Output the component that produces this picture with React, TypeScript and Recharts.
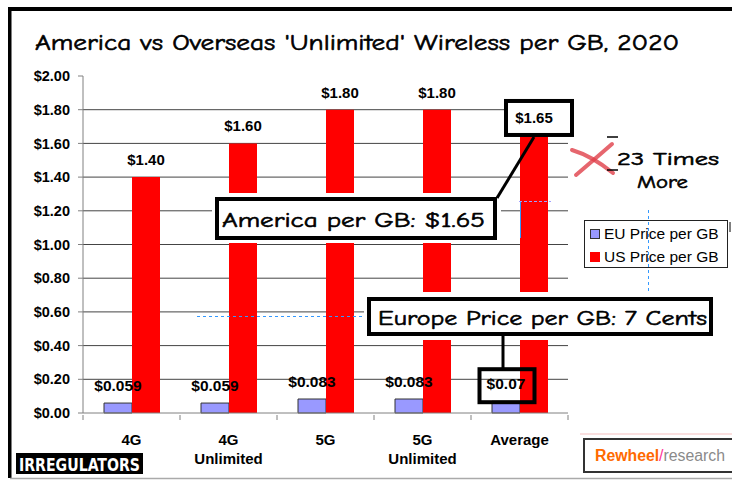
import React from 'react';
import { BarChart, Bar, XAxis, YAxis, CartesianGrid, LabelList, Legend } from 'recharts';

// ---------- data ----------
const categories = ['4G', '4G Unlimited', '5G', '5G Unlimited', 'Average'];
const euPrice = [0.059, 0.059, 0.083, 0.083, 0.07];
const usPrice = [1.4, 1.6, 1.8, 1.8, 1.65];
const euLabels = ['$0.059', '$0.059', '$0.083', '$0.083', '$0.07'];
const usLabels = ['$1.40', '$1.60', '$1.80', '$1.80', '$1.65'];
const yTicks = [0, 0.2, 0.4, 0.6, 0.8, 1.0, 1.2, 1.4, 1.6, 1.8, 2.0];
const gridValues = [0.2, 0.4, 0.6, 0.8, 1.0, 1.2, 1.4, 1.6, 1.8];
const seriesNames = ['EU Price per GB', 'US Price per GB'];
const highlightCategory = 'Average';
const title = "America vs Overseas 'Unlimited' Wireless per GB, 2020";
const calloutUS = 'America per GB: $1.65';
const calloutEU = 'Europe Price per GB: 7 Cents';
const multiplierLines = ['23 Times', 'More'];
const logoLeft = 'IRREGULATORS';
const logoRight = ['Rewheel', '/', 'research'];

const yMax = 2;
const EU_COLOR = '#9999FF';
const US_COLOR = '#FF0000';
const AXIS_FONT = "'Liberation Sans', Arial, sans-serif";
const COMIC_FONT = "'Comic Sans MS', 'Comic Neue', 'DejaVu Sans', sans-serif";

const data = categories.map((c, i) => ({
  category: c,
  eu: euPrice[i],
  us: usPrice[i],
  euLabel: euLabels[i],
  usLabel: usLabels[i],
}));

const XTick = (props: any) => {
  const { x, y, payload, index, visibleTicksCount, width } = props;
  const n = visibleTicksCount || categories.length;
  const band = (typeof width === 'number' && width > 0 ? width : 485) / n;
  const words = String(payload.value).split(' ');
  return (
    <g>
      <line x1={x - band / 2} x2={x - band / 2} y1={y} y2={y + 5} stroke="#808080" />
      {index === n - 1 && <line x1={x + band / 2} x2={x + band / 2} y1={y} y2={y + 5} stroke="#808080" />}
      <text textAnchor="middle" fontFamily={AXIS_FONT} fontWeight="bold" fontSize={15} fill="#000">
        {words.map((w, i) => (
          <tspan key={i} x={x} y={y + 30 + i * 19}>{w}</tspan>
        ))}
      </text>
    </g>
  );
};

const makeLabel = (kind: 'eu' | 'us') => (props: any) => {
  const { x, y, width, value, index } = props;
  const cx = x + width / 2;
  const baseline = y - 12;
  const boxed = categories[index] === highlightCategory;
  return (
    <g>
      {boxed && kind === 'us' && (
        <rect x={cx - 28} y={baseline - 22} width={66} height={34} fill="#fff" stroke="#000" strokeWidth={4} />
      )}
      {boxed && kind === 'eu' && (
        <rect x={cx - 26.5} y={baseline - 20} width={55} height={33} fill="none" stroke="#000" strokeWidth={4} />
      )}
      <text x={cx} y={baseline} textAnchor="middle" fontFamily={AXIS_FONT} fontWeight="bold" fontSize={kind === 'eu' ? 15.5 : 15} fill="#000">
        {value}
      </text>
    </g>
  );
};

const LegendBox = () => (
  <div
    style={{
      width: 144,
      height: 48,
      border: '1.5px solid #222',
      boxSizing: 'border-box',
      background: '#fff',
      fontFamily: AXIS_FONT,
      fontSize: 15.5,
      color: '#000',
      padding: '1px 0 0 5px',
      lineHeight: 1,
      whiteSpace: 'nowrap',
    }}
  >
    {seriesNames.map((n, i) => (
      <div key={n} style={{ display: 'flex', alignItems: 'center', height: 23 }}>
        <span
          style={{
            display: 'inline-block',
            width: i === 0 ? 8 : 10,
            height: i === 0 ? 8 : 10,
            background: i === 0 ? EU_COLOR : US_COLOR,
            border: i === 0 ? '1px solid #333' : 'none',
            marginRight: 4,
          }}
        />
        <span>{n}</span>
      </div>
    ))}
  </div>
);

const comicProps = { fontFamily: COMIC_FONT, fill: '#000', stroke: '#000', strokeWidth: 0.6, lengthAdjust: 'spacingAndGlyphs' as const };

const Overlay = () => (
  <svg width={732} height={480} style={{ position: 'absolute', left: 0, top: 0, pointerEvents: 'none' }}>
    {/* frame */}
    <rect x={8} y={7} width={724} height={4} fill="#000" />
    <rect x={8} y={7} width={3.5} height={471} fill="#000" />
    <line x1={10} x2={732} y1={478.5} y2={478.5} stroke="#aaa" strokeWidth={1.5} />
    {/* title */}
    <text x={35} y={50} fontSize={23} textLength={644} {...comicProps}>
      {title}
    </text>
    {/* America callout */}
    <rect x={212} y={193} width={289} height={50} fill="#fff" />
    <line x1={497} y1={198} x2={534} y2={137} stroke="#000" strokeWidth={3} />
    <rect x={217} y={199} width={278} height={39} fill="#fff" stroke="#000" strokeWidth={4} />
    <text x={222} y={227} fontSize={21} textLength={263} {...comicProps}>
      {calloutUS}
    </text>
    {/* Europe callout */}
    <rect x={364} y={292} width={352} height={48} fill="#fff" />
    <line x1={503} y1={336} x2={503} y2={369} stroke="#000" strokeWidth={3} />
    <rect x={369} y={299} width={342} height={35} fill="#fff" stroke="#000" strokeWidth={4} />
    <text x={378} y={325} fontSize={21} textLength={329} {...comicProps}>
      {calloutEU}
    </text>
    {/* 23 times more */}
    <path d="M572 150 Q592 156 613 173" stroke="#e0404a" strokeOpacity={0.8} strokeWidth={4} fill="none" strokeLinecap="round" />
    <path d="M576 175 Q596 158 612 144" stroke="#e0404a" strokeOpacity={0.8} strokeWidth={4} fill="none" strokeLinecap="round" />
    <line x1={607} x2={618} y1={137} y2={137} stroke="#000" strokeWidth={1.5} />
    <line x1={607} x2={618} y1={170} y2={170} stroke="#000" strokeWidth={1.5} />
    <text x={617} y={165} fontSize={19} textLength={102} {...comicProps}>
      {multiplierLines[0]}
    </text>
    <text x={637} y={188} fontSize={19} textLength={51} {...comicProps}>
      {multiplierLines[1]}
    </text>
    {/* edit artifacts */}
    <line x1={197} x2={362} y1={316.5} y2={316.5} stroke="#3399ff" strokeDasharray="3 3" />
    <line x1={648.5} x2={648.5} y1={210} y2={292} stroke="#3399ff" strokeDasharray="3 3" />
    <line x1={519} x2={551} y1={201.5} y2={201.5} stroke="#a0a0ff" strokeDasharray="3 2" />
    <line x1={520.5} x2={520.5} y1={202} y2={238} stroke="#3399ff" />
    <line x1={730} x2={730} y1={222} y2={232} stroke="#000" />
    {/* logos */}
    <rect x={16} y={453} width={127} height={21} fill="#000" />
    <text x={19} y={471} fontFamily="'DejaVu Sans Condensed', 'DejaVu Sans', sans-serif" fontWeight="bold" fontSize={18} fill="#fff" textLength={121} lengthAdjust="spacingAndGlyphs">
      {logoLeft}
    </text>
    <line x1={580} x2={732} y1={434} y2={434} stroke="#f8d4d4" strokeWidth={1.5} />
    <rect x={584} y={439} width={150} height={33} fill="#fff" stroke="#333" strokeWidth={2} />
    <text x={595} y={461} fontFamily={AXIS_FONT} fontSize={16} textLength={130} lengthAdjust="spacingAndGlyphs">
      <tspan fill="#FF6A00" fontWeight="bold">{logoRight[0]}</tspan>
      <tspan fill="#FF3399">{logoRight[1]}</tspan>
      <tspan fill="#8a8a8a">{logoRight[2]}</tspan>
    </text>
  </svg>
);

export default function App() {
  return (
    <div style={{ position: 'absolute', left: 0, top: 0, width: 732, height: 480, background: '#fff', overflow: 'hidden' }}>
      <BarChart
        width={732}
        height={480}
        data={data}
        margin={{ top: 76, right: 164, bottom: 27, left: 0 }}
        barGap={0}
        barSize={28}
      >
        <CartesianGrid
          vertical={false}
          stroke="#444"
          horizontalCoordinatesGenerator={({ offset }: any) =>
            gridValues.map((v) => offset.top + offset.height * (1 - v / yMax))
          }
        />
        <XAxis
          dataKey="category"
          interval={0}
          tickLine={false}
          tickSize={0}
          height={40}
          axisLine={{ stroke: '#808080' }}
          tick={<XTick />}
        />
        <YAxis
          width={83}
          domain={[0, yMax]}
          ticks={yTicks}
          interval={0}
          tickSize={5}
          tickMargin={8}
          axisLine={{ stroke: '#808080' }}
          tickLine={{ stroke: '#808080' }}
          tickFormatter={(v: number) => `$${v.toFixed(2)}`}
          tick={{ fill: '#000', fontFamily: AXIS_FONT, fontWeight: 'bold', fontSize: 14.5 }}
        />
        <Legend
          layout="horizontal"
          verticalAlign="middle"
          align="center"
          content={() => <LegendBox />}
          wrapperStyle={{ left: 584, top: 220, width: 144, height: 48 }}
        />
        <Bar dataKey="eu" name={seriesNames[0]} fill={EU_COLOR} stroke="#333" strokeWidth={1} isAnimationActive={false}>
          <LabelList dataKey="euLabel" content={makeLabel('eu')} />
        </Bar>
        <Bar dataKey="us" name={seriesNames[1]} fill={US_COLOR} isAnimationActive={false}>
          <LabelList dataKey="usLabel" content={makeLabel('us')} />
        </Bar>
      </BarChart>
      <Overlay />
    </div>
  );
}
